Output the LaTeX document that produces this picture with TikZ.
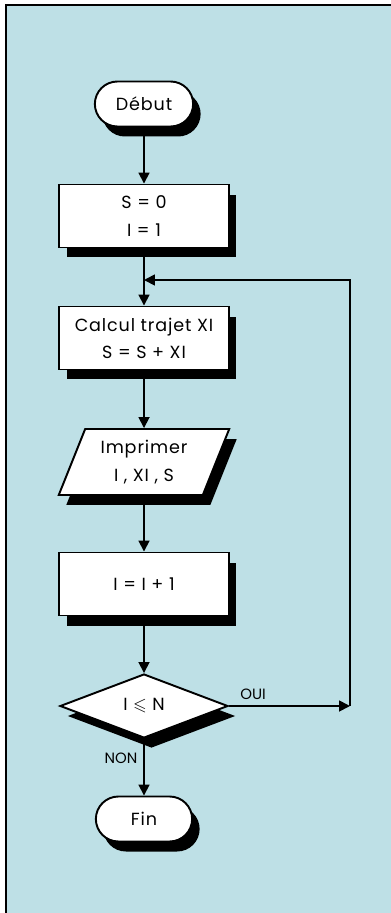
\documentclass[tikz,border=0pt]{standalone}
\usepackage{amsmath,amssymb}
\usepackage{fontspec}
\setmainfont{Poppins}
\usepackage{xcolor}
\usetikzlibrary{arrows.meta, positioning, shapes.geometric, shapes.misc, shadows}
\definecolor{paperblue}{RGB}{190, 224, 230}
\newcommand{\boxfont}{\fontsize{10}{15.5}\selectfont\addfontfeatures{LetterSpace=5}}

\begin{document}
\begin{tikzpicture}[x=0.02cm, y=-0.02cm,
    shade/.style={drop shadow={shadow xshift=0.15cm, shadow yshift=-0.2cm, fill=black, opacity=1}},
    term/.style={draw=black, line width=1.1pt, fill=white, rounded rectangle, minimum width=2.2cm, minimum height=0.9cm, font=\boxfont, shade},
    proc/.style={draw=black, line width=1.1pt, fill=white, rectangle, minimum width=3.4cm, minimum height=1.26cm, align=center, font=\boxfont, shade},
    io/.style={draw=black, line width=1.1pt, fill=white, trapezium, trapezium left angle=68, trapezium right angle=112, trapezium stretches=true, minimum width=3.44cm, minimum height=1.32cm, align=center, font=\boxfont, shade},
    test/.style={draw=black, line width=1.1pt, fill=white, diamond, inner sep=0pt, minimum width=3.36cm, minimum height=1.28cm, font=\boxfont, shade},
    arr/.style={-{Triangle[length=2.2mm, width=2.2mm]}, line width=1pt},
    lbl/.style={font=\fontsize{8.5}{10}\selectfont}
]
    % Background and frame
    \useasboundingbox (0,0) rectangle (391,913);
    \fill[white] (0,0) rectangle (391,913);
    \fill[paperblue] (6,5) rectangle (391,913);
    \draw[line width=1.2pt] (6,913) -- (6,5) -- (391,5);

    % Nodes
    \node[term] (debut) at (144,104) {Début};
    \node[proc] (init) at (144,216) {S = 0\\I = 1};
    \node[proc] (calc) at (144,338) {Calcul trajet XI\\S = S + XI};
    \node[io] (print) at (144,462) {Imprimer\\I , XI , S};
    \node[proc] (incr) at (144,584) {I = I + 1};
    \node[test] (cond) at (144,706) {I $\leqslant$ N};
    \node[term, minimum width=2.16cm] (fin) at (144,819) {Fin};

    % Loop corners
    \coordinate (corner) at (350,706);
    \coordinate (join) at (144,280);

    % Main flow
    \draw[arr] (debut) -- (init);
    \draw[arr] (init) -- (calc);
    \draw[arr] (calc) -- (print);
    \draw[arr] (print) -- (incr);
    \draw[arr] (incr) -- (cond);
    \draw[arr] (cond) -- node[pos=0.35, left, lbl] {NON} (fin);

    % Loop back
    \draw[arr] (cond.east) -- node[pos=0.2, above, lbl] {OUI} (corner);
    \draw[arr] (corner) |- (join);
\end{tikzpicture}
\end{document}
